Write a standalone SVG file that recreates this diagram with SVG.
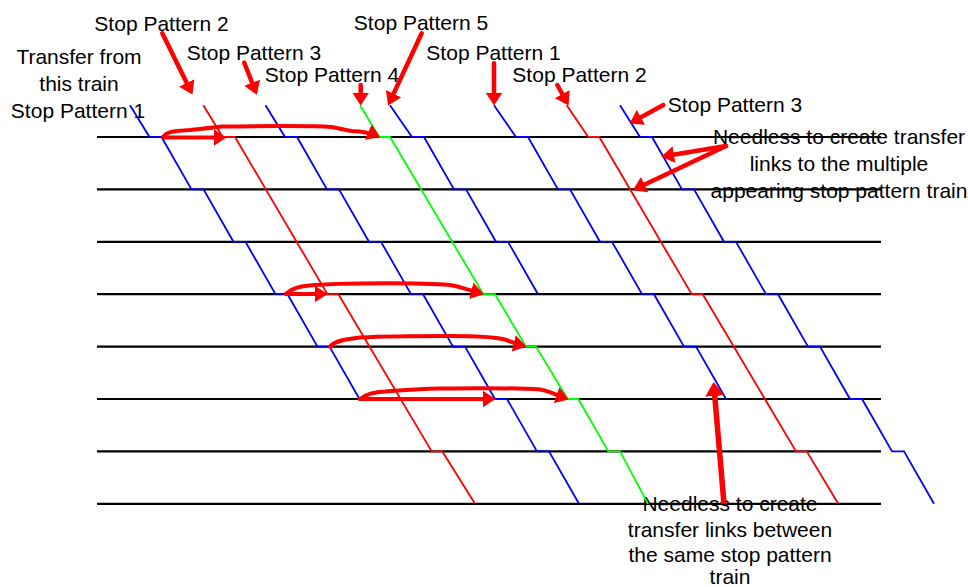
<svg xmlns="http://www.w3.org/2000/svg" width="968" height="587" viewBox="0 0 968 587">
<defs>
<style>
.st{stroke:#000;stroke-width:2.2;fill:none}
.tr{fill:none;stroke-width:1.8;stroke-linejoin:miter}
.b{stroke:#0000FF}
.r{stroke:#FF0000}
.g{stroke:#00FF00}
.lbl{font-family:"Liberation Sans",Arial,sans-serif;font-size:21px;fill:#000;text-anchor:middle}
.ar{fill:none;stroke:#FF0000;stroke-width:4.5;stroke-linecap:round;stroke-linejoin:round;marker-end:url(#ah)}
.ta{fill:none;stroke:#FF0000;stroke-width:4;stroke-linecap:round;stroke-linejoin:round;marker-end:url(#ah)}
</style>
<marker id="ah" markerUnits="userSpaceOnUse" markerWidth="13" markerHeight="17" refX="8.5" refY="8.5" orient="auto">
<path d="M0,0 L13,8.5 L0,17 z" fill="#FF0000"/>
</marker>
<marker id="ahb" markerUnits="userSpaceOnUse" markerWidth="14" markerHeight="19" refX="9" refY="9.5" orient="auto">
<path d="M0,0 L14,9.5 L0,19 z" fill="#FF0000"/>
</marker>
</defs>
<rect width="968" height="587" fill="#fff"/>

<g id="labels">
<text class="lbl" x="79" y="64">Transfer from</text>
<text class="lbl" x="79" y="91">this train</text>
<text class="lbl" x="78" y="118">Stop Pattern 1</text>
<text class="lbl" x="161.5" y="30.5">Stop Pattern 2</text>
<text class="lbl" x="254" y="60">Stop Pattern 3</text>
<text class="lbl" x="332" y="82">Stop Pattern 4</text>
<text class="lbl" x="421" y="29.5">Stop Pattern 5</text>
<text class="lbl" x="493.5" y="59.5">Stop Pattern 1</text>
<text class="lbl" x="579.5" y="82">Stop Pattern 2</text>
<text class="lbl" x="735" y="111.5">Stop Pattern 3</text>
<text class="lbl" x="839" y="144">Needless to create transfer</text>
<text class="lbl" x="839" y="171">links to the multiple</text>
<text class="lbl" x="839" y="198">appearing stop pattern train</text>
<text class="lbl" x="730" y="511">Needless to create</text>
<text class="lbl" x="730" y="537">transfer links between</text>
<text class="lbl" x="730" y="562">the same stop pattern</text>
<text class="lbl" x="730" y="584">train</text>
</g>

<g id="stations">
<line class="st" x1="97" y1="137" x2="881" y2="137"/>
<line class="st" x1="97" y1="189.4" x2="881" y2="189.4"/>
<line class="st" x1="97" y1="241.8" x2="881" y2="241.8"/>
<line class="st" x1="97" y1="294.2" x2="881" y2="294.2"/>
<line class="st" x1="97" y1="346.6" x2="881" y2="346.6"/>
<line class="st" x1="97" y1="399" x2="881" y2="399"/>
<line class="st" x1="97" y1="451.4" x2="881" y2="451.4"/>
<line class="st" x1="97" y1="503.8" x2="881" y2="503.8"/>
</g>

<g id="trains">
<path id="train-sp1-a" class="tr b" d="M130,105.3 L149.5,137 L161.5,137 L191.5,189.4 L203.5,189.4 L233.5,241.8 L245.5,241.8 L275.5,294.2 L287.5,294.2 L317.5,346.6 L329.5,346.6 L359.5,399"/>
<path id="train-sp2-a" class="tr r" d="M203.3,105.3 L222.7,137 L235,137 L327.4,294.2 L338.4,294.2 L431.7,451.4 L442.3,451.4 L475,503.8"/>
<path id="train-sp3-a" class="tr b" d="M265.5,105.3 L285,137 L297,137 L327,189.4 L339,189.4 L369,241.8 L381,241.8 L411,294.2 L423,294.2 L453,346.6 L465,346.6 L495,399 L507,399 L537,451.4 L549,451.4 L579,503.8"/>
<path id="train-sp4" class="tr g" d="M360,105.3 L379.3,137 L390,137 L483.3,294.2 L495,294.2 L526,346.6 L536,346.6 L567.7,399 L578.3,399 L608.3,451.4 L620,451.4 L648,503.8"/>
<path id="train-sp5" class="tr b" d="M390,105.3 L412,137 L424,137 L454,189.4 L466,189.4 L496,241.8 L508,241.8 L538,294.2"/>
<path id="train-sp1-b" class="tr b" d="M494,105.3 L516,137 L528,137 L558,189.4 L570,189.4 L600,241.8 L612,241.8 L642,294.2 L654,294.2 L684,346.6 L696,346.6 L726,399"/>
<path id="train-sp2-b" class="tr r" d="M566.7,105.3 L588.3,137 L599.3,137 L691.7,294.2 L702.7,294.2 L796,451.4 L806.7,451.4 L838.3,503.8"/>
<path id="train-sp3-b" class="tr b" d="M620,105.3 L640,137 L652,137 L682,189.4 L694,189.4 L724,241.8 L736,241.8 L766,294.2 L778,294.2 L808,346.6 L820,346.6 L850,399 L862,399 L892,451.4 L904,451.4 L934,503.8"/>
</g>

<g id="connectors">
<path class="ar" d="M162.3,33.3 L190.5,90.5"/>
<path class="ar" d="M244.3,62.7 L255.2,90.6"/>
<path class="ar" d="M360.7,85 L360.7,101"/>
<path class="ar" d="M421.7,33.3 L390,101.4"/>
<path class="ar" d="M494,63.3 L494,101"/>
<path class="ar" d="M557.3,85 L566.4,101.5"/>
<path class="ar" d="M663.3,105 L633.5,121.4"/>
<path class="ar" d="M726,146 L665.6,156"/>
<path class="ar" d="M726,146 L636.9,188.3"/>
<path d="M724,504 L714,387" fill="none" stroke="#FF0000" stroke-width="5.5" stroke-linecap="butt" marker-end="url(#ahb)"/>

<path class="ta" d="M163,137.5 L222,137.5"/>
<path class="ta" d="M163,137 C167,131 175,131 190,130 C200,129 210,128 222,126.5 C260,126 300,126 325,126.5 C338,127 342,130 352,131 C362,131.5 368,132 376,135.5"/>

<path class="ta" d="M286,294 L323,294"/>
<path class="ta" d="M286,294 C292,288 300,286 315,285 C330,284 340,283.5 360,283.5 C400,283 430,283.5 450,285 C462,287 468,290 479.5,293"/>

<path class="ta" d="M330,346.6 C335,341 345,339 360,337.5 C380,336.5 420,336 450,336 C480,336 495,337 505,339.5 C512,342 516,344 522,345.5"/>

<path class="ta" d="M360,399 L491,399"/>
<path class="ta" d="M360,399 C365,395 372,392 385,391.5 C400,390.5 420,389 440,388.5 C480,388 520,388 540,389.5 C550,391 556,395 564.5,398"/>
</g>
</svg>
